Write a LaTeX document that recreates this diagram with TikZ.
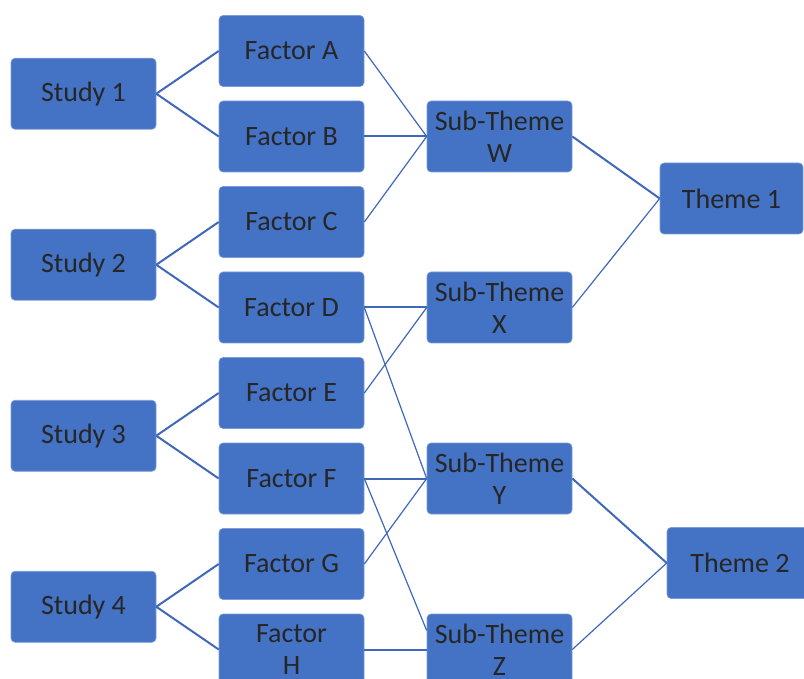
\documentclass[tikz,border=0pt]{standalone}
\usepackage{fontspec}
\setmainfont{Carlito}
\usepackage{tikz}
\definecolor{boxblue}{HTML}{4472C4}
\definecolor{lineblue}{HTML}{4068B8}
\definecolor{boxtext}{HTML}{262626}

\begin{document}
\begin{tikzpicture}[x=1pt,y=-1pt,
    box/.style={rectangle,rounded corners=4pt,fill=boxblue,draw=boxblue!70!white,line width=0.6pt,
      minimum width=145pt,minimum height=71pt,inner sep=0pt,align=center,text=boxtext,
      font=\fontsize{28}{32}\selectfont},
    thickline/.style={draw=lineblue,line width=2pt},
    thinline/.style={draw=lineblue,line width=1.2pt}]
      \useasboundingbox (0,0) rectangle (804,679);
      \clip (0,0) rectangle (804,679);
%%%%%%%%%%%%%%%%%%%%%%%%%%%%%%%%%%%%%%%%%%%%%%%%%%%%%%%%%%%%%%%%%%%%%%%
      \draw (83.5,93.75) node[box] (study1) {Study 1};
      \draw (83.5,264.75) node[box] (study2) {Study 2};
      \draw (83.5,435.75) node[box] (study3) {Study 3};
      \draw (83.5,606.75) node[box] (study4) {Study 4};
%%%%%%%%%%%%%%%%%%%%%%%%%%%%%%%%%%%%%%%%%%%%%%%%%%%%%%%%%%%%%%%%%%%%%%%
      \draw (291.5,51) node[box] (factorA) {Factor A};
      \draw (291.5,136.5) node[box] (factorB) {Factor B};
      \draw (291.5,222) node[box] (factorC) {Factor C};
      \draw (291.5,307.5) node[box] (factorD) {Factor D};
      \draw (291.5,393) node[box] (factorE) {Factor E};
      \draw (291.5,478.5) node[box] (factorF) {Factor F};
      \draw (291.5,564) node[box] (factorG) {Factor G};
      \draw (291.5,649.5) node[box] (factorH) {Factor\\H};
%%%%%%%%%%%%%%%%%%%%%%%%%%%%%%%%%%%%%%%%%%%%%%%%%%%%%%%%%%%%%%%%%%%%%%%
      \draw (499.5,136.5) node[box] (subthemeW) {Sub-Theme\\W};
      \draw (499.5,307.5) node[box] (subthemeX) {Sub-Theme\\X};
      \draw (499.5,478.5) node[box] (subthemeY) {Sub-Theme\\Y};
      \draw (499.5,649.5) node[box] (subthemeZ) {Sub-Theme\\Z};
%%%%%%%%%%%%%%%%%%%%%%%%%%%%%%%%%%%%%%%%%%%%%%%%%%%%%%%%%%%%%%%%%%%%%%%
      \draw (731.5,198.5) node[box,minimum width=143pt] (theme1) {Theme 1};
      \draw (740,563) node[box,minimum width=146pt] (theme2) {Theme 2};
%%%%%%%%%%%%%%%%%%%%%%%%%%%%%%%%%%%%%%%%%%%%%%%%%%%%%%%%%%%%%%%%%%%%%%%
      \path[-,thickline] (study1.east) edge (factorA.west) edge (factorB.west);
      \path[-,thickline] (study2.east) edge (factorC.west) edge (factorD.west);
      \path[-,thickline] (study3.east) edge (factorE.west) edge (factorF.west);
      \path[-,thickline] (study4.east) edge (factorG.west) edge (factorH.west);
%%%%%%%%%%%%%%%%%%%%%%%%%%%%%%%%%%%%%%%%%%%%%%%%%%%%%%%%%%%%%%%%%%%%%%%
      \path[-,thinline] (factorA.east) edge (subthemeW.west);
      \path[-,thickline] (factorB.east) edge (subthemeW.west);
      \path[-,thinline] (factorC.east) edge (subthemeW.west);
      \path[-,thickline] (factorD.east) edge (subthemeX.west);
      \path[-,thinline] (factorD.east) edge (subthemeY.west);
      \path[-,thinline] (factorE.east) edge (subthemeX.west);
      \path[-,thickline] (factorF.east) edge (subthemeY.west);
      \path[-,thinline] (factorF.east) edge ([yshift=19pt]subthemeZ.west);
      \path[-,thinline] (factorG.east) edge (subthemeY.west);
      \path[-,thickline] (factorH.east) edge (subthemeZ.west);
%%%%%%%%%%%%%%%%%%%%%%%%%%%%%%%%%%%%%%%%%%%%%%%%%%%%%%%%%%%%%%%%%%%%%%%
      \path[-,thickline] (subthemeW.east) edge (theme1.west);
      \path[-,thinline] (subthemeX.east) edge (theme1.west);
      \path[-,thickline] (subthemeY.east) edge (theme2.west);
      \path[-,thinline] (subthemeZ.east) edge (theme2.west);
\end{tikzpicture}
\end{document}
